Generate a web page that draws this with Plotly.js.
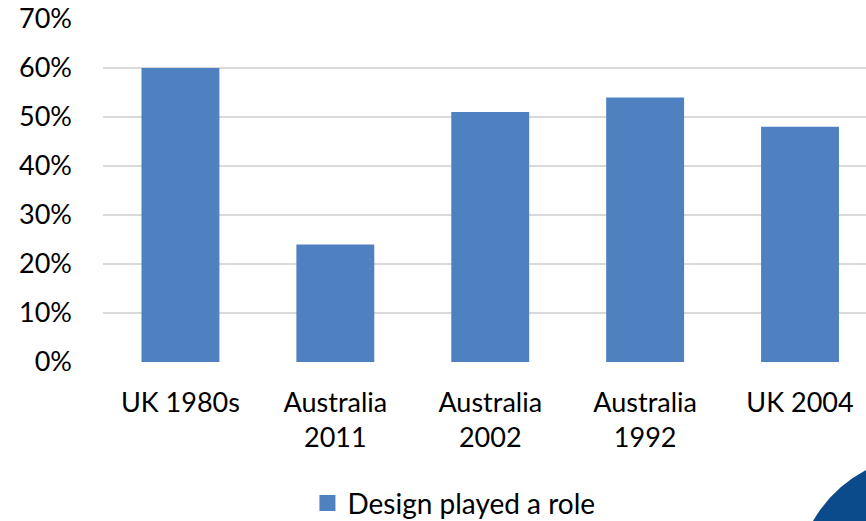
<!DOCTYPE html>
<html>
<head>
<meta charset="utf-8">
<script src="https://cdn.plot.ly/plotly-3.0.1.min.js"></script>
<style>html,body{margin:0;padding:0;background:#fff;}#chart{width:866px;height:521px;}</style>
</head>
<body>
<div id="chart"></div>
<script>
const categories = ["UK 1980s", "Australia<br>2011", "Australia<br>2002", "Australia<br>1992", "UK 2004"];
const seriesName = "Design played a role";
const values = [0.60, 0.24, 0.51, 0.54, 0.48];
const yTickVals = [0, 0.1, 0.2, 0.3, 0.4, 0.5, 0.6, 0.7];
const yTickText = ["0%", "10%", "20%", "30%", "40%", "50%", "60%", "70%"];

const font = "Lato, 'Open Sans', sans-serif";
const barColor = "#4f81c1";

const trace = {
  type: "bar",
  x: categories,
  y: values,
  name: seriesName,
  showlegend: false,
  marker: { color: barColor, line: { width: 0 } },
  hoverinfo: "skip"
};

// legend entry (larger square swatch like the reference)
const legendProxy = {
  type: "scatter",
  mode: "markers",
  x: [null],
  y: [null],
  name: seriesName,
  showlegend: true,
  marker: { symbol: "square", size: 19, color: barColor },
  hoverinfo: "skip"
};

const layout = {
  width: 866,
  height: 521,
  margin: { l: 103, r: 0, t: 19, b: 159 },
  paper_bgcolor: "#ffffff",
  plot_bgcolor: "#ffffff",
  bargap: 0.497,
  showlegend: true,
  font: { family: font, size: 27, color: "#000000" },
  xaxis: {
    type: "category",
    range: [-0.5, 4.426],
    showgrid: false,
    zeroline: false,
    showline: false,
    ticks: "",
    automargin: false,
    ticklabelstandoff: 22,
    tickfont: { family: font, size: 27, color: "#000" }
  },
  yaxis: {
    range: [0, 0.7],
    tickvals: yTickVals,
    ticktext: yTickText,
    showgrid: true,
    gridcolor: "#d9d9d9",
    gridwidth: 1.5,
    zeroline: false,
    showline: false,
    ticks: "",
    automargin: false,
    ticklabelstandoff: 30,
    tickfont: { family: font, size: 27, color: "#000" }
  },
  legend: {
    orientation: "h",
    xref: "container",
    yref: "container",
    x: 0.355,
    xanchor: "left",
    y: 0.034,
    yanchor: "middle",
    itemwidth: 30,
    font: { family: font, size: 28, color: "#000" },
    bgcolor: "rgba(0,0,0,0)"
  },
  shapes: [
    {
      type: "path",
      xref: "paper",
      yref: "paper",
      path: "M 0.9305 -0.4636 Q 0.9554 -0.3673 1.0 -0.3149 L 1.0 -0.4636 Z",
      fillcolor: "#0b4a8b",
      line: { width: 0 },
      layer: "above"
    }
  ]
};

Plotly.newPlot("chart", [trace, legendProxy], layout, { displayModeBar: false, staticPlot: true });
</script>
</body>
</html>
